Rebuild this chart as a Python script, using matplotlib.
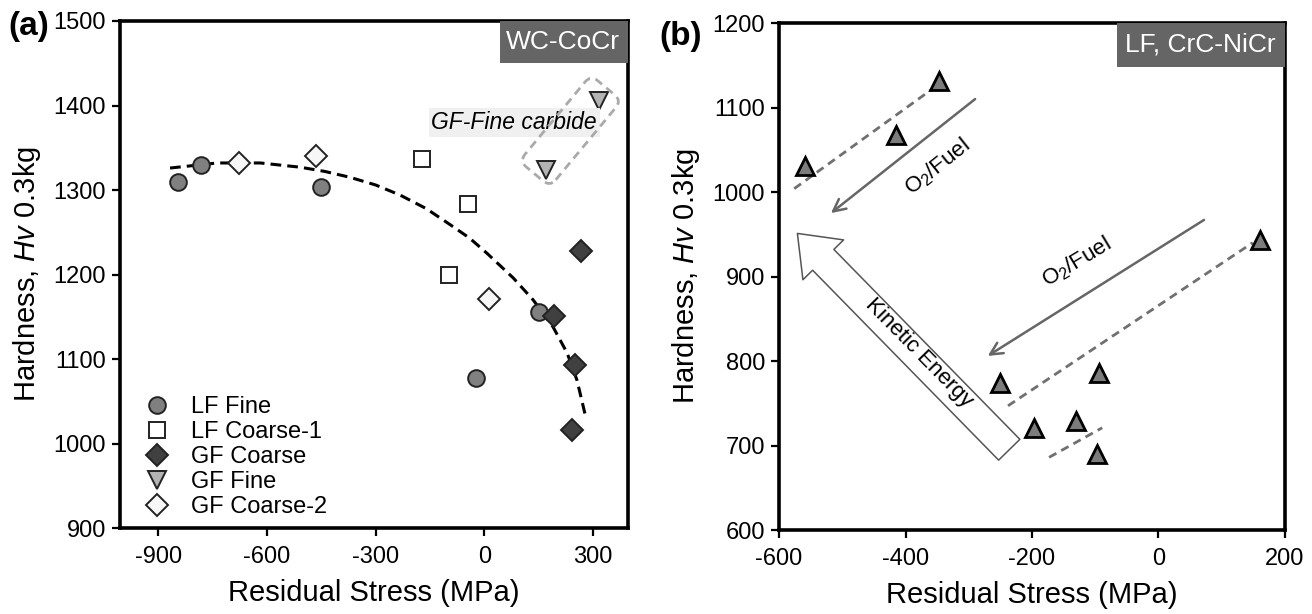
import matplotlib
matplotlib.use("Agg")
import matplotlib.pyplot as plt
from matplotlib.patches import FancyBboxPatch, FancyArrowPatch, Rectangle
from matplotlib.transforms import Affine2D, ScaledTranslation

plt.rcParams["font.family"] = ["Liberation Sans", "DejaVu Sans"]
plt.rcParams["mathtext.fontset"] = "custom"
plt.rcParams["mathtext.rm"] = "Liberation Sans"
plt.rcParams["mathtext.it"] = "Liberation Sans:italic"
plt.rcParams["axes.unicode_minus"] = False

# ---- panel (a): WC-CoCr ----
LF_FINE_X = [-844, -782, -450, -22, 152]
LF_FINE_Y = [1310, 1330, 1303, 1078, 1156]
LF_COARSE1_X = [-172, -44, -96]
LF_COARSE1_Y = [1337, 1284, 1199]
GF_COARSE_X = [267, 193, 251, 243]
GF_COARSE_Y = [1228, 1151, 1093, 1016]
GF_FINE_X = [317, 171]
GF_FINE_Y = [1405, 1324]
GF_COARSE2_X = [-676, -465, 14]
GF_COARSE2_Y = [1332, 1340, 1171]

# fitted trend curve
FIT_X = [-867, -737, -618, -508, -440, -370, -300, -232, -160, -94, -40, 8, 80,
         135, 190, 229, 256, 281]
FIT_Y = [1326, 1332, 1332, 1327, 1322, 1315, 1306, 1294, 1278, 1259, 1243, 1225,
         1196, 1170, 1138, 1107, 1075, 1030]

# ---- panel (b): LF, CrC-NiCr ----
B_X = [-559, -415, -347, 160, -250, -94, -197, -130, -97]
B_Y = [1031, 1067, 1131, 943, 774, 786, 721, 729, 690]

GUIDE_LINES = [
    ([-576, -352], [1004, 1125]),
    ([-238, 149], [747, 940]),
    ([-173, -89], [686, 721]),
]
O2_ARROWS = [((-290, 1110), (-518, 975)), ((72, 967), (-270, 806))]

EDGE = "#222222"
BOX_GRAY = "#656565"

fig = plt.figure(figsize=(13.12, 6.14), dpi=100)
ax1 = fig.add_axes([0.0915, 0.140, 0.3872, 0.8258])
ax2 = fig.add_axes([0.5938, 0.1368, 0.3856, 0.8257])


def style_axes(ax):
    for s in ax.spines.values():
        s.set_linewidth(2.6)
    ax.tick_params(direction="out", length=6, width=1.6, labelsize=17,
                   top=False, right=False)
    ax.tick_params(axis="x", pad=7)
    ax.tick_params(axis="y", pad=4)


# ---------------- (a) ----------------
ax1.plot(FIT_X, FIT_Y, color="black", linestyle="--", dashes=(3.5, 2), lw=2.2, zorder=2)
ax1.plot(LF_FINE_X, LF_FINE_Y, "o", ms=12, mfc="#808080", mec=EDGE, mew=1.4,
         label="LF Fine", zorder=3)
ax1.plot(LF_COARSE1_X, LF_COARSE1_Y, "s", ms=12, mfc="white", mec=EDGE, mew=1.4,
         label="LF Coarse-1", zorder=3)
ax1.plot(GF_COARSE_X, GF_COARSE_Y, "D", ms=11, mfc="#404040", mec=EDGE, mew=1.4,
         label="GF Coarse", zorder=3)
ax1.plot(GF_FINE_X, GF_FINE_Y, "v", ms=13, mfc="#b3b3b3", mec=EDGE, mew=1.4,
         label="GF Fine", zorder=3)
ax1.plot(GF_COARSE2_X, GF_COARSE2_Y, "D", ms=11, mfc="#f7f7f7", mec=EDGE, mew=1.4,
         label="GF Coarse-2", zorder=3)

ax1.set_xlim(-1005, 397)
ax1.set_ylim(900, 1500)
ax1.set_xticks([-900, -600, -300, 0, 300])
ax1.set_yticks([900, 1000, 1100, 1200, 1300, 1400, 1500])
ax1.set_xlabel("Residual Stress (MPa)", fontsize=21, labelpad=8)
ax1.set_ylabel("Hardness, $\\mathit{Hv}$ 0.3kg", fontsize=21, labelpad=8)
style_axes(ax1)

ax1.legend(loc="lower left", bbox_to_anchor=(0.049, 0.019), borderaxespad=0,
           borderpad=0, frameon=False, fontsize=17, handlelength=1.0,
           handletextpad=0.95, labelspacing=0.13, numpoints=1)

ax1.add_patch(Rectangle((0.748, 0.917), 0.252, 0.083, transform=ax1.transAxes,
                        facecolor=BOX_GRAY, edgecolor="none", zorder=4))
ax1.text(0.871, 0.958, "WC-CoCr", transform=ax1.transAxes, color="white",
         fontsize=19, ha="center", va="center", zorder=5)

ax1.text(83, 1380, "GF-Fine carbide", fontsize=16.5, style="italic",
         ha="center", va="center", zorder=4,
         bbox=dict(boxstyle="square,pad=0.12", facecolor="#f0f0f0", edgecolor="none"))

box_trans = (Affine2D().rotate_deg(50.3) + fig.dpi_scale_trans
             + ScaledTranslation(238, 1370, ax1.transData))
ax1.add_patch(FancyBboxPatch((-0.56, -0.2), 1.12, 0.40,
                             boxstyle="round,pad=0,rounding_size=0.09",
                             transform=box_trans, facecolor="none",
                             edgecolor="#aaaaaa", lw=2, linestyle=(0, (3, 2)),
                             zorder=5, clip_on=False))

# ---------------- (b) ----------------
for gx, gy in GUIDE_LINES:
    ax2.plot(gx, gy, color="#707070", linestyle="--", dashes=(3, 2), lw=2, zorder=2)

ax2.plot(B_X, B_Y, "^", ms=12.5, mfc="#7c7c7c", mec="black", mew=2, zorder=4)

for (sx, sy), (ex, ey) in O2_ARROWS:
    ax2.annotate("", xy=(ex, ey), xytext=(sx, sy),
                 arrowprops=dict(arrowstyle="->", color="#666666", lw=1.8,
                                 shrinkA=0, shrinkB=0, mutation_scale=22))

ax2.text(-349, 1030, "O$_2$/Fuel", fontsize=16, rotation=38.5,
         ha="center", va="center", rotation_mode="anchor")
ax2.text(-129, 917, "O$_2$/Fuel", fontsize=16, rotation=31,
         ha="center", va="center", rotation_mode="anchor")

ke = FancyArrowPatch((-236, 695), (-571, 951),
                     arrowstyle="simple,head_length=26.6,head_width=41,tail_width=21.4",
                     mutation_scale=1, shrinkA=0, shrinkB=0,
                     facecolor="white", edgecolor="#555555", lw=1.1, zorder=3)
ax2.add_patch(ke)
ax2.text(-379, 810, "Kinetic Energy", fontsize=16, rotation=-45.5,
         ha="center", va="center", rotation_mode="anchor", zorder=4)

ax2.set_xlim(-600, 200)
ax2.set_ylim(600, 1200)
ax2.set_xticks([-600, -400, -200, 0, 200])
ax2.set_yticks([600, 700, 800, 900, 1000, 1100, 1200])
ax2.set_xlabel("Residual Stress (MPa)", fontsize=21, labelpad=8)
ax2.set_ylabel("Hardness, $\\mathit{Hv}$ 0.3kg", fontsize=21, labelpad=8)
style_axes(ax2)

ax2.add_patch(Rectangle((0.668, 0.913), 0.332, 0.087, transform=ax2.transAxes,
                        facecolor=BOX_GRAY, edgecolor="none", zorder=4))
ax2.text(0.833, 0.957, "LF, CrC-NiCr", transform=ax2.transAxes, color="white",
         fontsize=19, ha="center", va="center", zorder=5)

fig.text(8 / 1312, 1 - 26 / 614, "(a)", fontsize=24, fontweight="bold",
         ha="left", va="center")
fig.text(659 / 1312, 1 - 36 / 614, "(b)", fontsize=24, fontweight="bold",
         ha="left", va="center")

fig.savefig("out.png", dpi=100)
